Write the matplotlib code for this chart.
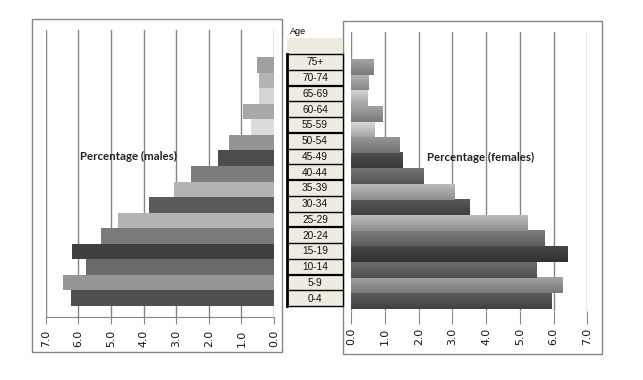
import matplotlib
matplotlib.use("Agg")
import matplotlib.pyplot as plt
import numpy as np
from matplotlib.colors import to_rgb

ages = ["0-4", "5-9", "10-14", "15-19", "20-24", "25-29", "30-34", "35-39",
        "40-44", "45-49", "50-54", "55-59", "60-64", "65-69", "70-74", "75+"]
males = [6.23, 6.47, 5.77, 6.20, 5.31, 4.79, 3.83, 3.07,
         2.55, 1.72, 1.38, 0.70, 0.95, 0.45, 0.45, 0.52]
females = [5.95, 6.28, 5.51, 6.43, 5.75, 5.24, 3.52, 3.08,
           2.16, 1.53, 1.45, 0.70, 0.94, 0.50, 0.53, 0.67]
male_colors = ["#505050", "#959595", "#6a6a6a", "#404040", "#7a7a7a", "#b4b4b4",
               "#5a5a5a", "#b4b4b4", "#7c7c7c", "#4c4c4c", "#949494", "#dcdcdc",
               "#a8a8a8", "#d4d4d4", "#b4b4b4", "#a0a0a0"]
female_colors = ["#4a4a4a", "#8a8a8a", "#5a5a5a", "#383838", "#6a6a6a", "#a0a0a0",
                 "#484848", "#a0a0a0", "#606060", "#404040", "#808080", "#bcbcbc",
                 "#8a8a8a", "#b5b5b5", "#9a9a9a", "#8a8a8a"]
ticks = [0, 1, 2, 3, 4, 5, 6, 7]
tick_labels = ["0.0", "1.0", "2.0", "3.0", "4.0", "5.0", "6.0", "7.0"]

W, H = 643, 380
fig = plt.figure(figsize=(W / 100, H / 100), dpi=100)
fig.patch.set_facecolor("white")

GRID = "#868686"

# background decoration axes in pixel coordinates
bg = fig.add_axes([0, 0, 1, 1], zorder=0)
bg.set_xlim(0, W)
bg.set_ylim(H, 0)
bg.axis("off")
# outer chart boxes
bg.add_patch(plt.Rectangle((32, 19), 250, 333, fill=False, edgecolor=GRID, lw=1))
bg.add_patch(plt.Rectangle((343, 21), 259, 333, fill=False, edgecolor=GRID, lw=1))

# Age table
tx0, tx1 = 287, 343
ty0, ty1 = 54, 306
bg.add_patch(plt.Rectangle((tx0, 38), tx1 - tx0, ty1 - 38, facecolor="#eeece1",
                           edgecolor="none"))
bg.text(290, 31, "Age", fontsize=6.5, family="Liberation Sans", ha="left", va="center")
n = len(ages)
rh = (ty1 - ty0) / n
for k, lab in enumerate(reversed(ages)):
    yc = ty0 + (k + 0.5) * rh
    bg.text((tx0 + tx1) / 2, yc + 0.5, lab, fontsize=7.3, family="Liberation Sans",
            ha="center", va="center", color="#111111")
for k in range(n + 1):
    y = ty0 + k * rh
    lw = 1.6 if k % 3 == 2 else 1.0
    bg.plot([tx0, tx1], [y, y], color="black", lw=lw, solid_capstyle="butt")
bg.plot([tx0, tx0], [ty0, ty1], color="black", lw=2)
bg.plot([tx1, tx1], [ty0, ty1], color="black", lw=1)

ypos = np.arange(n)

# Left (males)
axL = fig.add_axes([45.7 / W, 1 - 317 / H, 228.3 / W, 287 / H], zorder=1)
axL.set_facecolor("none")
axL.barh(ypos, males, height=1.0, color=male_colors, edgecolor="none", zorder=2)
axL.set_xlim(7, 0)
axL.set_ylim(-1.21, 17.24)
axL.set_xticks(ticks)
axL.set_xticklabels(tick_labels, rotation=90, fontsize=7.8, family="DejaVu Sans",
                    color="#111111")
axL.set_yticks([])
axL.grid(axis="x", color=GRID, lw=1)
axL.set_axisbelow(True)
for s in ["top", "left", "right"]:
    axL.spines[s].set_visible(False)
axL.spines["bottom"].set_color(GRID)
axL.tick_params(axis="x", direction="out", length=5, color=GRID, pad=4)
axL.text(0.15, 0.56, "Percentage (males)", transform=axL.transAxes, fontsize=8.3,
         family="Lato", weight="bold", color="#222222", ha="left", va="center")

# Right (females) with gradient bars
axR = fig.add_axes([351.3 / W, 1 - 311 / H, 236 / W, 279 / H], zorder=1)
axR.set_facecolor("none")
for i, (v, c) in enumerate(zip(females, female_colors)):
    base = np.array(to_rgb(c))
    top = np.clip(base * 1.12 + 0.03, 0, 1)
    bot = np.clip(base * 0.88, 0, 1)
    t = np.linspace(0, 1, 20)[:, None]
    grad = (top[None, :] * (1 - t) + bot[None, :] * t)[:, None, :]
    axR.imshow(grad, extent=(0, v, i - 0.5, i + 0.5), aspect="auto",
               origin="upper", zorder=2, interpolation="bilinear")
axR.set_xlim(0, 7)
axR.set_ylim(-0.63, 17.23)
axR.set_xticks(ticks)
axR.set_xticklabels(tick_labels, rotation=90, fontsize=7.8, family="DejaVu Sans",
                    color="#111111")
axR.set_yticks([])
axR.grid(axis="x", color=GRID, lw=1)
axR.set_axisbelow(True)
for s in ["top", "left", "right", "bottom"]:
    axR.spines[s].set_visible(False)
axR.tick_params(axis="x", direction="out", length=9, color=GRID, pad=3)
axR.text(0.32, 0.55, "Percentage (females)", transform=axR.transAxes, fontsize=8.3,
         family="Lato", weight="bold", color="#222222", ha="left", va="center")

fig.savefig("out.png", dpi=100, facecolor="white")
